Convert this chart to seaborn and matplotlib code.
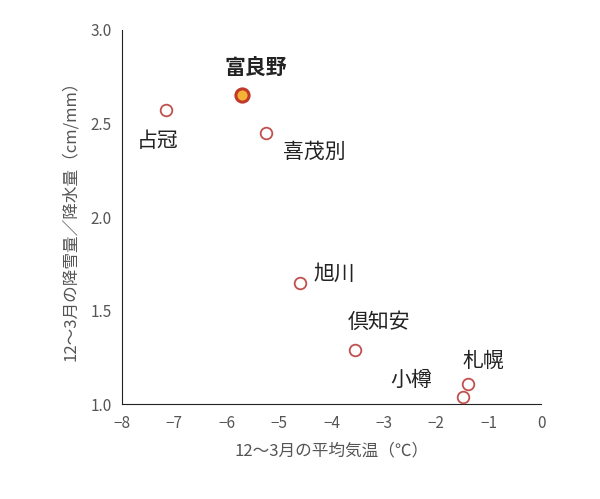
import numpy as np
import pandas as pd
import matplotlib
matplotlib.use('Agg')
import matplotlib.pyplot as plt
import seaborn as sns

sns.set_style("white")
plt.rcParams['font.family'] = ['Noto Sans CJK JP', 'DejaVu Sans']

towns = ['占冠', '富良野', '喜茂別', '旭川', '倶知安', '札幌', '小樽']
temps = [-7.15, -5.7, -5.25, -4.6, -3.55, -1.4, -1.5]
ratios = [2.57, 2.65, 2.45, 1.65, 1.29, 1.11, 1.04]
df = pd.DataFrame({'town': towns, 'temp': temps, 'ratio': ratios})

fig = plt.figure(figsize=(6, 4.99), dpi=100)
ax = fig.add_axes([0.203, 0.19, 0.699, 0.75])

others = df[df['town'] != '富良野']
sns.scatterplot(data=others, x='temp', y='ratio', ax=ax, s=70,
                facecolor='white', edgecolor='#c0504d', linewidth=1.3, zorder=3)
hl = df[df['town'] == '富良野']
sns.scatterplot(data=hl, x='temp', y='ratio', ax=ax, s=90,
                facecolor='#f5b335', edgecolor='#c0392b', linewidth=2.2, zorder=4)

# label offsets in points
offsets = {'占冠': (-6, -22), '富良野': (10, 20), '喜茂別': (12, -14), '旭川': (10, 6),
           '倶知安': (-5, 20), '札幌': (-4, 16), '小樽': (-52, 12)}
for t, x, y in zip(towns, temps, ratios):
    ox, oy = offsets[t]
    ax.annotate(t, (x, y), xytext=(ox, oy), textcoords='offset points',
                fontsize=15, ha='left' if t not in ('占冠', '富良野') else 'center',
                va='center', fontweight='bold' if t == '富良野' else 'normal', color='#222222')

ax.set_xlim(-8, 0)
ax.set_ylim(1.0, 3.0)
ax.set_xticks(np.arange(-8, 1, 1))
ax.set_yticks([1.0, 1.5, 2.0, 2.5, 3.0])
ax.set_yticklabels(['1.0', '1.5', '2.0', '2.5', '3.0'])
sns.despine(ax=ax)
for s in ['left', 'bottom']:
    ax.spines[s].set_color('#222222')
ax.tick_params(direction='out', length=4, colors='#555555', labelsize=11)
ax.tick_params(axis='both', labelcolor='#555555')
ax.set_xlabel('12～3月の平均気温（℃）', fontsize=12, color='#555555', labelpad=8)
ax.set_ylabel('12～3月の降雪量／降水量（cm/mm）', fontsize=12, color='#555555', labelpad=8)

fig.savefig('out.png', dpi=100)
